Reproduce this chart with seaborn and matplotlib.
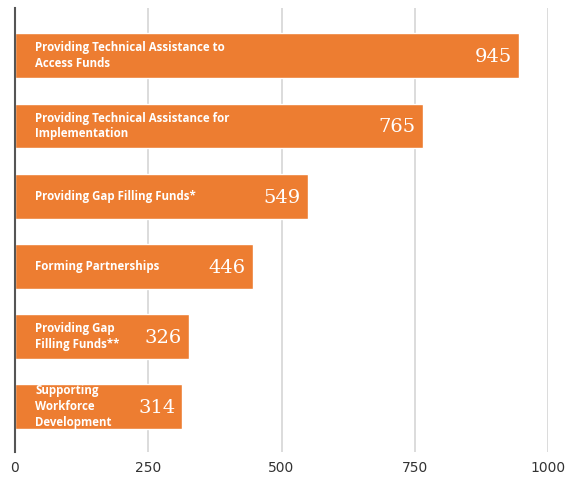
import pandas as pd
import numpy as np
import seaborn as sns
import matplotlib.pyplot as plt

# data
categories = ['Providing Technical Assistance to\nAccess Funds',
              'Providing Technical Assistance for\nImplementation',
              'Providing Gap Filling Funds*',
              'Forming Partnerships',
              'Providing Gap\nFilling Funds**',
              'Supporting\nWorkforce\nDevelopment']
values = [945, 765, 549, 446, 326, 314]
ticks = [0, 250, 500, 750, 1000]

df = pd.DataFrame({'cat': categories, 'val': values})

sns.set_style('white')
fig = plt.figure(figsize=(5.74, 4.79), dpi=100)
ax = fig.add_axes([0.026, 0.056, 0.929, 0.927])

sns.barplot(data=df, y='cat', x='val', orient='h', color='#ED7D31',
            saturation=1, width=0.64, ax=ax, zorder=3)

ax.set_xlim(0, 1000)
ax.set_ylim(5.65, -0.68)
ax.set_xticks(ticks)
ax.set_xticklabels([str(t) for t in ticks], fontsize=10, color='#333333')
ax.tick_params(axis='x', length=0, pad=6)
ax.set_yticks([])
ax.set_xlabel('')
ax.set_ylabel('')
ax.grid(axis='x', color='#d9d9d9', linewidth=1.3, zorder=0)
for s in ['top', 'right', 'bottom']:
    ax.spines[s].set_visible(False)
ax.spines['left'].set_color('#555555')
ax.spines['left'].set_linewidth(1.5)
ax.spines['left'].set_zorder(4)

for i, (c, v) in enumerate(zip(categories, values)):
    ax.annotate(c, (0, i), xytext=(14.5, 0), textcoords='offset points',
                ha='left', va='center', color='white', fontsize=8.3,
                fontweight='bold', family='Open Sans', linespacing=1.28, zorder=5)
    ax.annotate(str(v), (v, i), xytext=(-5, -1), textcoords='offset points',
                ha='right', va='center', color='white', fontsize=14,
                family='DejaVu Serif', zorder=5)

plt.savefig('out.png', dpi=100)
